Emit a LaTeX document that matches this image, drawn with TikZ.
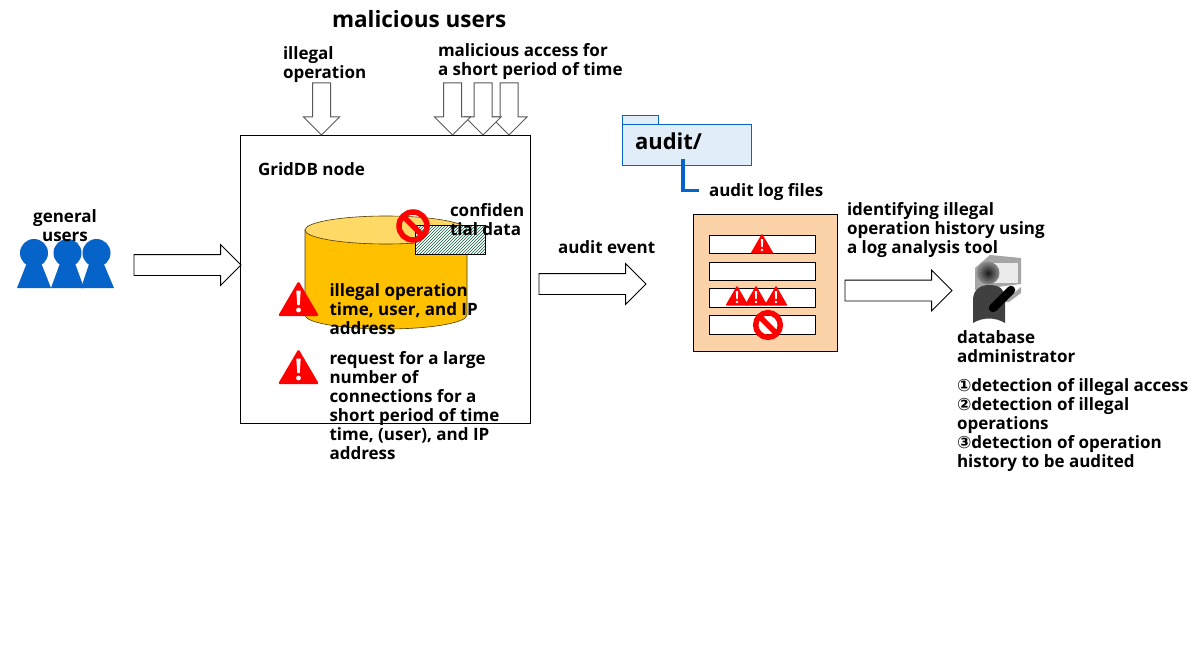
\documentclass[tikz,border=0pt]{standalone}
\usepackage{fontspec}
\setmainfont{Open Sans}
\newfontfamily\symfont{DejaVu Sans}
\usetikzlibrary{shapes.arrows,patterns,shadings}
\definecolor{ublue}{HTML}{0563C9}
\definecolor{dbgold}{HTML}{FFC000}
\definecolor{dbtop}{HTML}{FFD966}
\definecolor{peach}{HTML}{FCD3A8}
\definecolor{folderfill}{HTML}{E1EEF9}
\definecolor{hatchgreen}{HTML}{0B5A3C}
\tikzset{
  lbl/.style={anchor=north west,align=left,inner sep=0pt,outer sep=0pt,font=\fontsize{17}{19}\selectfont\bfseries},
  blockr/.style={draw=black,fill=white,line width=0.8pt,single arrow,single arrow head extend=10pt,single arrow tip angle=90,inner xsep=0pt,inner ysep=10pt,outer sep=0pt,minimum height=107pt,anchor=tail},
  blockd/.style={draw=black!65,fill=white,line width=1pt,single arrow,single arrow head extend=9pt,single arrow tip angle=90,rotate=-90,inner xsep=0pt,inner ysep=8.5pt,outer sep=0pt,minimum height=52pt,anchor=tail},
  plainbox/.style={draw=black,line width=0.9pt,inner sep=0pt,outer sep=0pt},
  rowbox/.style={plainbox,fill=white,minimum width=106pt},
  warnsign/.pic={
    \fill[red,rounded corners=1.5pt] (-20.5,35) -- (0,0) -- (20.5,35) -- cycle;
    \fill[white,line width=0] (-2.2,9.5) -- (2.2,9.5) -- (1.2,24) -- (-1.2,24) -- cycle;
    \fill[white] (0,29) circle (2.4);
  },
  warnsmall/.pic={
    \fill[red,rounded corners=1pt] (-11.5,20) -- (0,0) -- (11.5,20) -- cycle;
    \fill[white] (-1.2,5.5) -- (1.2,5.5) -- (.7,13.5) -- (-.7,13.5) -- cycle;
    \fill[white] (0,16.5) circle (1.3);
  },
  nosign/.pic={
    \draw[red,line width=5.5pt] (0,0) circle (14);
    \draw[red,line width=5.5pt] (-10,-10) -- (10,10);
  }
}
\begin{document}
\begin{tikzpicture}[x=1pt,y=-1pt]
\useasboundingbox (0,0) rectangle (1204,647);
\fill[white] (0,0) rectangle (1204,647);

% GridDB node
\node[plainbox,fill=white,minimum width=290pt,minimum height=288pt] (griddb) at (385.5,279.5) {};

% down arrows
\node[blockd] (a1) at (321.5,83) {};
\node[blockd] (a4) at (509,83) {};
\node[blockd] (a3) at (483,83) {};
\node[blockd] (a2) at (452.5,83) {};

% left arrow
\node[blockr] (inarrow) at (134,265) {};

% cylinder
\draw[black!70!dbgold,fill=dbgold,line width=0.6pt] (305,230) -- (305,315) arc[start angle=180,end angle=360,x radius=81,y radius=-14] -- (467,230) -- cycle;
\draw[black!70!dbgold,fill=dbtop,line width=0.6pt] (386,230) ellipse[x radius=81,y radius=14];

% confidential data
\node[plainbox,preaction={fill=white},pattern=north east lines,pattern color=hatchgreen,minimum width=70pt,minimum height=29pt] (conf) at (450,239.5) {};
\pic at (413,226) {nosign};

% people
\fill[ublue] (17,288) -- (30,255) -- (38,255) -- (51,288) -- cycle;
\fill[ublue] (51,288) -- (63,255) -- (72,255) -- (84,288) -- cycle;
\fill[ublue] (81,288) -- (92,255) -- (100,255) -- (114,288) -- cycle;
\fill[ublue] (34,253) circle (14);
\fill[ublue] (67.5,253) circle (14);
\fill[ublue] (96.5,253) circle (14);

% warnings
\pic at (298.5,281) {warnsign};
\pic at (298.5,349) {warnsign};

% folder
\node[draw=ublue,fill=folderfill,line width=0.8pt,inner sep=0pt,outer sep=0pt,minimum width=36pt,minimum height=10pt] (tab) at (640,120) {};
\node[draw=ublue,fill=folderfill,line width=0.8pt,inner sep=0pt,outer sep=0pt,minimum width=129pt,minimum height=41pt] (folder) at (687,145) {};
\coordinate (logstart) at (683,159);
\coordinate (logend) at (699,190.5);
\draw[ublue,line width=3.5pt] (logstart) |- (logend);

% log box
\node[plainbox,fill=peach,minimum width=144pt,minimum height=137pt] (logbox) at (765,282.5) {};
\node[rowbox,minimum height=18pt] (r1) at (762,244.5) {};
\node[rowbox,minimum height=18pt] (r2) at (762,271.5) {};
\node[rowbox,minimum height=19pt] (r3) at (762,297.5) {};
\node[rowbox,minimum height=19pt] (r4) at (762,324.5) {};
\pic at (762,233.5) {warnsmall};
\pic at (737,285.5) {warnsmall};
\pic at (756,285.5) {warnsmall};
\pic at (776,285.5) {warnsmall};
\pic[scale=0.88] at (768,325) {nosign};

% other arrows
\node[blockr] (evarrow) at (539,284) {};
\node[blockr] (anarrow) at (845,290.5) {};

% administrator
\fill[black!35] (975,268) -- (990,255) -- (1021,258) -- (1021,284) -- (1005,286) -- (975,290) -- cycle;
\fill[black!35] (1003,302) -- (1021,287) -- (1021,293) -- (1009,302) -- cycle;
\fill[black!8] (993,263) -- (1018,263) -- (1018,283) -- (993,283) -- cycle;
\shade[inner color=black!90,outer color=black!45] (988,273) circle (11.5);
\fill[black!75] (973,300) .. controls (973,290) and (980,285) .. (989,285) .. controls (1000,285) and (1005,290) .. (1005,298) -- (1005,323) .. controls (995,317) and (983,317) .. (973,323) -- cycle;
\draw[black,line width=8.5pt,line cap=round] (993,308) -- (1011,290);

% texts
\node[lbl,font=\fontsize{22.5}{26}\selectfont\bfseries] (t0) at (332,10.5) {malicious users};
\node[lbl] (t1) at (283,47) {illegal\\operation};
\node[lbl] (t2) at (438,43) {malicious access for\\a short period of time};
\node[lbl] (t3) at (258,163) {GridDB node};
\node[lbl,align=center,anchor=north] (t4) at (65,210) {general\\users};
\node[lbl] (t5) at (450,203.5) {confiden\\tial data};
\node[lbl] (t6) at (329.5,284) {illegal operation\\time, user, and IP\\address};
\node[lbl] (t7) at (329.5,351) {request for a large\\number of\\connections for a\\short period of time\\time, (user), and IP\\address};
\node[lbl] (t8) at (558,241) {audit event};
\node[lbl,font=\fontsize{22}{26}\selectfont\bfseries] (t9) at (635,132.5) {audit/};
\node[lbl] (t10) at (709,183) {audit log files};
\node[lbl] (t11) at (847,202) {identifying illegal\\operation history using\\a log analysis tool};
\node[lbl] (t12) at (957,331) {database\\administrator};
\node[lbl] (t13) at (957,378) {{\symfont ①}detection of illegal access\\{\symfont ②}detection of illegal\\operations\\{\symfont ③}detection of operation\\history to be audited};
\end{tikzpicture}
\end{document}
